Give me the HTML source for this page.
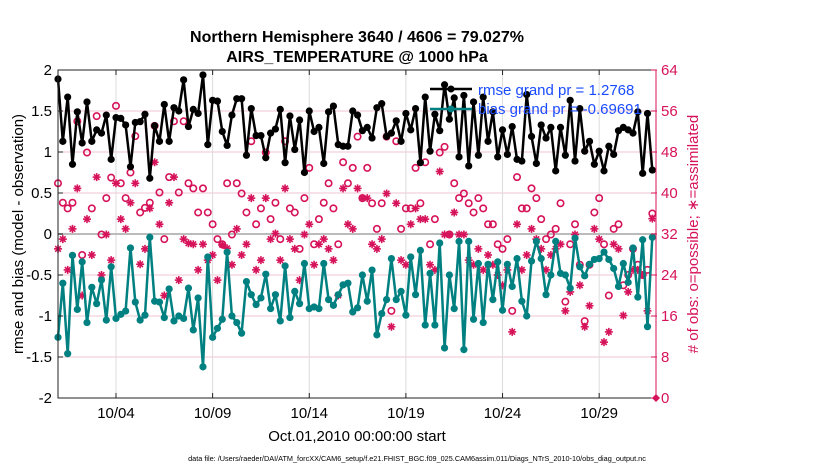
<!DOCTYPE html>
<html><head><meta charset="utf-8"><style>
html,body{margin:0;padding:0;background:#fff;width:830px;height:470px;overflow:hidden}
svg text{font-family:"Liberation Sans",sans-serif}
</style></head><body>
<svg id="chart" width="830" height="470" viewBox="0 0 830 470" xmlns="http://www.w3.org/2000/svg">
<rect width="830" height="470" fill="#fff"/>
<text x="357" y="42" font-size="16" font-weight="bold" text-anchor="middle">Northern Hemisphere 3640 / 4606 = 79.027%</text>
<text x="357" y="62" font-size="16" font-weight="bold" text-anchor="middle">AIRS_TEMPERATURE @ 1000 hPa</text>
<g id="grid"></g>
<g id="series"></g>
<g id="axes"></g>
<text transform="translate(23,234) rotate(-90)" font-size="15" text-anchor="middle">rmse and bias (model - observation)</text>
<text transform="translate(698,234) rotate(-90)" font-size="15" text-anchor="middle" fill="#d6135a"># of obs: o=possible; ∗=assimilated</text>
<text x="357" y="441" font-size="15" text-anchor="middle">Oct.01,2010 00:00:00 start</text>
<text x="417" y="461" font-size="7.3" text-anchor="middle">data file: /Users/raeder/DAI/ATM_forcXX/CAM6_setup/f.e21.FHIST_BGC.f09_025.CAM6assim.011/Diags_NTrS_2010-10/obs_diag_output.nc</text>
<g>
<line x1="430" y1="89" x2="472" y2="89" stroke="#000" stroke-width="2.5"/>
<circle cx="451" cy="89" r="3.5" fill="#000"/>
<text x="478" y="95" font-size="15" fill="#1a4cff">rmse grand pr = 1.2768</text>
<line x1="430" y1="109" x2="472" y2="109" stroke="#008080" stroke-width="2.5"/>
<circle cx="451" cy="109" r="3.5" fill="#008080"/>
<text x="478" y="114" font-size="15" fill="#1a4cff">bias grand pr = -0.69691</text>
</g>
</svg>
<script>
const rmse=[1.89,1.13,1.67,0.85,1.49,1.11,1.61,1.13,1.27,1.23,1.45,0.91,1.42,1.41,1.33,0.82,1.36,1.37,1.46,0.68,1.32,1.13,1.58,1.13,1.54,1.50,1.88,1.31,1.52,1.47,
1.94,1.09,1.63,1.62,1.25,1.08,1.45,1.65,1.65,0.96,1.53,1.2,1.2,0.93,1.23,1.28,1.52,0.87,1.44,1.03,1.39,0.75,1.5,1.25,1.3,0.86,1.49,1.56,1.09,1.07,
1.07,1.5,1.45,1.26,1.3,1.17,1.54,1.59,1.19,1.23,1.38,1.13,1.47,1.27,1.53,0.87,1.67,1.01,1.46,1.26,1.82,1.40,1.66,0.94,1.69,0.83,1.61,0.96,1.67,1.13,
1.49,0.94,1.27,0.97,1.31,0.91,0.89,1.70,1.19,0.86,1.33,1.17,1.30,0.77,1.30,
0.96,1.63,0.89,1.53,1.01,1.13,0.85,1.01,0.77,1.07,0.97,1.26,1.30,1.27,1.23,1.49,0.74,1.47,0.78];
const bias=[-1.26,-0.60,-1.46,-0.26,-0.92,-0.34,-1.08,-0.65,-0.85,-0.56,-1.05,-0.40,-1.03,-0.98,-0.94,-0.17,-0.83,-1.05,-0.99,-0.04,-0.82,-0.83,-1.02,-0.67,-1.06,-1.00,-1.03,-0.66,-1.17,-0.78,
-1.62,-0.28,-1.26,-1.15,-1.04,-0.22,-1.0,-1.08,-1.21,-0.58,-0.74,-0.86,-0.78,-0.49,-0.91,-0.74,-1.06,-0.39,-1.02,-0.70,-0.85,-0.36,-0.91,-0.89,-0.91,-0.36,-0.80,-0.87,-0.74,-0.62,
-0.60,-0.95,-0.90,-0.50,-0.82,-0.44,-1.23,-0.97,-0.80,-0.30,-0.80,-0.70,-0.99,-0.28,-0.74,-0.20,-1.11,-0.48,-1.11,-0.11,-1.39,-0.50,-0.91,-0.09,-1.41,-0.09,-1.04,-0.36,-1.08,-0.37,
-0.80,-0.34,-0.93,-0.37,-0.64,-0.30,-0.82,-1.0,-0.33,-0.09,-0.30,-0.74,-0.50,-0.09,-0.48,
-0.50,-0.66,-0.05,-0.40,-0.51,-0.37,-0.31,-0.30,-0.22,-0.31,-0.42,-0.64,-0.36,-0.59,-0.17,-0.77,-0.07,-1.13,-0.04];
const possible=[41.9,38.1,37.0,38.1,54.0,27.9,47.9,37.0,55.0,31.9,39.0,43.0,57.0,41.9,39.0,44.0,51.1,36.2,37.1,38.1,53.1,40.1,31.0,43.1,54.0,40.1,54.0,41.9,40.9,36.2,
40.9,36.2,33.9,31.0,30.0,41.9,31.9,41.9,39.9,36.2,50.1,33.9,37.0,47.9,34.9,38.1,31.0,50.1,37.0,36.2,29.1,39.0,44.9,30.0,34.9,38.1,41.9,37.0,30.0,46.0,
41.9,44.9,51.0,39.0,44.9,38.0,33.0,38.0,51.0,17.0,50.1,33.0,37.0,37.0,44.9,38.0,46.0,30.0,34.9,47.9,49.0,31.9,41.9,39.0,39.9,38.0,36.2,39.0,37.0,33.9,
33.9,30.0,29.1,31.0,17.0,43.1,37.0,37.0,40.9,39.0,34.9,31.0,31.9,33.0,38.0,
18.8,30.0,33.9,26.0,15.0,26.0,36.2,39.0,30.0,20.0,33.0,33.9,22.0,24.0,29.1,26,24,25,36];
const assimilated=[29.1,31.0,25.0,33.0,40.9,20.0,34.9,27.9,43.1,24.0,31.9,26.9,41.9,34.9,33.0,38.1,41.9,26.1,29.1,37.0,46.0,33.9,20.0,38.1,43.1,23.0,31.0,30.2,30.0,25.0,
30.0,26.9,27.9,23.0,29.9,29.2,26.0,33.0,27.9,30.0,39.0,25.0,26.9,39.0,31.0,32.1,26.9,40.9,31.0,29.1,23.0,31.9,33.9,26.0,30.0,31.0,29.1,26.9,20.0,40.9,
33.9,33.0,40.9,39.0,39.0,30.0,29.1,31.0,39.9,13.9,38.0,26.9,26.0,33.9,37.0,34.9,34.9,26.0,25.0,44.2,31.9,31.9,36.2,31.9,31.9,26.9,26.0,29.1,25.0,27.9,
26.0,24.0,22.0,25.0,12.9,33.9,25.0,27.9,33.0,31.0,29.1,25.0,27.9,29.1,30.0,
17.0,20.7,31.9,22.0,13.9,18.0,33.0,31.0,10.9,12.9,30.0,29.1,16.1,20.7,25.0,25,24,17,35];
const yTicks=[2,1.5,1,0.5,0,-0.5,-1,-1.5,-2];
const yTickLabels=["2","1.5","1","0.5","0","-0.5","-1","-1.5","-2"];
const rTicks=[0,8,16,24,32,40,48,56,64];
const xTickDays=[3,8,13,18,23,28];
const xTickLabels=["10/04","10/09","10/14","10/19","10/24","10/29"];
const stepDays=0.25;

const NS="http://www.w3.org/2000/svg";
const L=58,R=656,T=70,B=398;
const xDomain=[0,30.94];
const X=d=>L+(d-xDomain[0])/(xDomain[1]-xDomain[0])*(R-L);
const Y=v=>T+(2-v)/4*(B-T);
const YR=c=>B-c/64*(B-T);
const CR="#d6135a";
function mk(tag,attrs,parent){const e=document.createElementNS(NS,tag);for(const k in attrs)e.setAttribute(k,attrs[k]);parent.appendChild(e);return e;}
const grid=document.getElementById('grid'),series=document.getElementById('series'),axes=document.getElementById('axes');

rTicks.forEach(c=>{
  const e=mk('line',{x1:L,x2:R,y1:YR(c),y2:YR(c),stroke:'#f2c6d6','stroke-width':1},grid);
  
  
});
xTickDays.forEach(d=>{
  const e=mk('line',{x1:X(d),x2:X(d),y1:T,y2:B,stroke:'#dcdcdc','stroke-width':1},grid);
  
  
});
const z=mk('line',{x1:L,x2:R,y1:Y(0),y2:Y(0),stroke:'#bbb','stroke-width':2},grid);



function star(cx,cy,p){
  const g=mk('g',{stroke:CR,'stroke-width':1.6},p);
  
  
  const s=4;
  [[s,0],[0,s],[s*0.7,s*0.7],[s*0.7,-s*0.7]].forEach(([dx,dy])=>mk('line',{x1:cx-dx,y1:cy-dy,x2:cx+dx,y2:cy+dy},g));
}
possible.forEach((c,i)=>{
  const e=mk('circle',{cx:X(i*stepDays),cy:YR(c),r:3.2,fill:'none',stroke:CR,'stroke-width':1.6},series);
  
  
});
assimilated.forEach((c,i)=>star(X(i*stepDays),YR(c),series));

function line(vals,color,name){
  const pts=vals.map((v,i)=>X(i*stepDays).toFixed(1)+','+Y(v).toFixed(1)).join(' ');
  const pl=mk('polyline',{points:pts,fill:'none',stroke:color,'stroke-width':2.5,'stroke-linejoin':'round'},series);
  
  
  vals.forEach((v,i)=>{
    const c=mk('circle',{cx:X(i*stepDays),cy:Y(v),r:3.6,fill:color},series);
    
    
  });
}
line(bias,'#008080','bias');
line(rmse,'#000','rmse');

const f1=mk('path',{d:`M${R},${T} L${L},${T} L${L},${B} L${R},${B}`,fill:'none',stroke:'#222','stroke-width':1},axes);


const f2=mk('line',{x1:R,x2:R,y1:T,y2:B,stroke:CR,'stroke-width':1},axes);


yTicks.forEach((v,i)=>{
  mk('line',{x1:L,x2:L+5,y1:Y(v),y2:Y(v),stroke:'#222'},axes);
  const t=mk('text',{x:L-6,y:Y(v)+5,'font-size':15,'text-anchor':'end'},axes);
  t.textContent=yTickLabels[i];
  
  
});
rTicks.forEach(c=>{
  mk('line',{x1:R-5,x2:R+1,y1:YR(c),y2:YR(c),stroke:CR},axes);
  const t=mk('text',{x:R+5,y:YR(c)+5,'font-size':15,fill:CR},axes);
  t.textContent=String(c);
  
  
});
xTickDays.forEach((d,i)=>{
  mk('line',{x1:X(d),x2:X(d),y1:B,y2:B-5,stroke:'#222'},axes);
  mk('line',{x1:X(d),x2:X(d),y1:T,y2:T+5,stroke:'#222'},axes);
  const t=mk('text',{x:X(d),y:B+20,'font-size':15,'text-anchor':'middle'},axes);
  t.textContent=xTickLabels[i];
  
  
});
const dm=mk('path',{d:`M${R-4},${B} L${R},${B-4} L${R+4},${B} L${R},${B+4} Z`,fill:CR},axes);


</script>
</body></html>
